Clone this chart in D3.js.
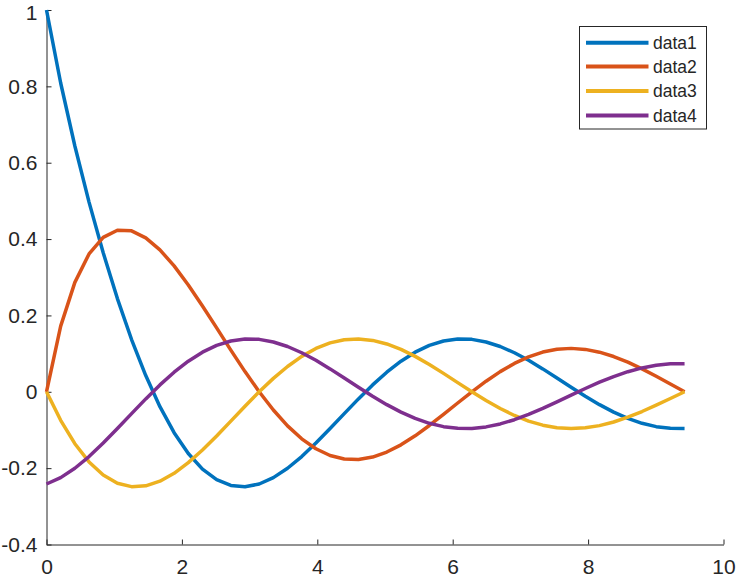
<!DOCTYPE html>
<html>
<head>
<meta charset="utf-8">
<script src="https://cdn.jsdelivr.net/npm/d3@7"></script>
<style>
  html, body { margin: 0; padding: 0; background: #fff; }
  svg { display: block; }
  text { font-family: "Liberation Sans", Arial, sans-serif; fill: #262626; }
</style>
</head>
<body>
<svg id="chart" width="737" height="577"></svg>
<script>
const xValues = [0, 0.2094, 0.4189, 0.6283, 0.8378, 1.0472, 1.2566, 1.4661, 1.6755, 1.8850,
  2.0944, 2.3038, 2.5133, 2.7227, 2.9322, 3.1416, 3.3510, 3.5605, 3.7699, 3.9794,
  4.1888, 4.3982, 4.6077, 4.8171, 5.0265, 5.2360, 5.4454, 5.6549, 5.8643, 6.0737,
  6.2832, 6.4926, 6.7021, 6.9115, 7.1209, 7.3304, 7.5398, 7.7493, 7.9587, 8.1681,
  8.3776, 8.5870, 8.7965, 9.0059, 9.2153, 9.4248];

const data1 = [1.000, 0.8088, 0.6438, 0.4968, 0.3641, 0.2442, 0.1369, 0.0424, -0.0391, -0.1071,
  -0.1616, -0.2025, -0.2303, -0.2454, -0.2487, -0.2415, -0.2248, -0.2003, -0.1696, -0.1344,
  -0.0964, -0.0572, -0.0186, 0.0180, 0.0513, 0.0802, 0.1038, 0.1216, 0.1331, 0.1383,
  0.1373, 0.1305, 0.1186, 0.1023, 0.0824, 0.0600, 0.0362, 0.0119, -0.0117, -0.0337,
  -0.0533, -0.0698, -0.0826, -0.0913, -0.0957, -0.0959];

const data2 = [0, 0.1719, 0.2866, 0.3610, 0.4043, 0.4230, 0.4215, 0.4033, 0.3717, 0.3297,
  0.2799, 0.2249, 0.1673, 0.1092, 0.0529, 0, -0.0478, -0.0892, -0.1232, -0.1492,
  -0.1669, -0.1762, -0.1773, -0.1710, -0.1578, -0.1389, -0.1153, -0.0883, -0.0592, -0.0294,
  0, 0.0277, 0.0528, 0.0743, 0.0915, 0.1040, 0.1114, 0.1137, 0.1110, 0.1037,
  0.0923, 0.0775, 0.0600, 0.0406, 0.0204, 0];

const data3 = [0, -0.0748, -0.1360, -0.1837, -0.2180, -0.2394, -0.2485, -0.2464, -0.2342, -0.2135,
  -0.1856, -0.1524, -0.1156, -0.0768, -0.0378, 0, 0.0351, 0.0663, 0.0927, 0.1134,
  0.1281, 0.1365, 0.1385, 0.1346, 0.1252, 0.1109, 0.0927, 0.0715, 0.0482, 0.0240,
  0, -0.0229, -0.0439, -0.0620, -0.0767, -0.0875, -0.0941, -0.0964, -0.0944, -0.0886,
  -0.0791, -0.0666, -0.0517, -0.0351, -0.0176, 0];

const data4 = [-0.2415, -0.2248, -0.2003, -0.1696, -0.1344, -0.0964, -0.0572, -0.0186, 0.0180, 0.0513,
  0.0802, 0.1038, 0.1216, 0.1331, 0.1383, 0.1373, 0.1305, 0.1186, 0.1023, 0.0824,
  0.0600, 0.0362, 0.0119, -0.0117, -0.0337, -0.0533, -0.0698, -0.0826, -0.0913, -0.0957,
  -0.0959, -0.0920, -0.0842, -0.0732, -0.0594, -0.0436, -0.0265, -0.0088, 0.0086, 0.0251,
  0.0399, 0.0526, 0.0625, 0.0695, 0.0732, 0.0737];

const seriesNames = ["data1", "data2", "data3", "data4"];
const seriesColors = ["#0072BD", "#D95319", "#EDB120", "#7E2F8E"];
const xTicks = [0, 2, 4, 6, 8, 10];
const yTicks = [-0.4, -0.2, 0, 0.2, 0.4, 0.6, 0.8, 1];

const seriesList = [data1, data2, data3, data4];

(function () {
  const svg = d3.select("#chart");
  const mLeft = 46.5, mRight = 723.5, mTop = 10, mBottom = 544.5;

  const x = d3.scaleLinear().domain([0, 10]).range([mLeft, mRight]);
  const y = d3.scaleLinear().domain([-0.4, 1]).range([mBottom, mTop]);

  const xAxis = d3.axisBottom(x).tickValues(xTicks).tickSizeInner(-5).tickSizeOuter(0)
    .tickFormat(d3.format("d"));
  const yAxis = d3.axisLeft(y).tickValues(yTicks).tickSizeInner(-5).tickSizeOuter(0)
    .tickPadding(9).tickFormat(d => d === 0 ? "0" : String(+d.toFixed(1)));

  const gx = svg.append("g").attr("transform", `translate(0,${mBottom})`).call(xAxis);
  const gy = svg.append("g").attr("transform", `translate(${mLeft},0)`).call(yAxis);

  [gx, gy].forEach(g => {
    g.select(".domain").attr("stroke", "#262626").attr("stroke-width", 1);
    g.selectAll(".tick line").attr("stroke", "#262626").attr("stroke-width", 1);
    g.selectAll(".tick text").attr("fill", "#262626")
      .style("font-family", '"Liberation Sans", Arial, sans-serif').style("font-size", "21px");
  });
  gx.selectAll(".tick text").attr("y", 29.5).attr("dy", 0);
  gy.selectAll(".tick text").filter(d => d === 1).attr("dy", "0.43em");

  const line = d3.line().x((d, i) => x(xValues[i])).y(d => y(d));
  seriesList.forEach((s, i) => {
    svg.append("path").datum(s)
      .attr("d", line)
      .attr("fill", "none")
      .attr("stroke", seriesColors[i])
      .attr("stroke-width", 3.5)
      .attr("stroke-linejoin", "round");
  });

  const lg = svg.append("g");
  lg.append("rect").attr("x", 579.5).attr("y", 26.5).attr("width", 127).attr("height", 102.5)
    .attr("fill", "#fff").attr("stroke", "#262626").attr("stroke-width", 1);
  const rowY = [42.7, 66.5, 91, 115.5];
  seriesNames.forEach((n, i) => {
    lg.append("line").attr("x1", 586).attr("x2", 648.5).attr("y1", rowY[i]).attr("y2", rowY[i])
      .attr("stroke", seriesColors[i]).attr("stroke-width", 4);
    lg.append("text").attr("x", 653).attr("y", rowY[i]).attr("dy", "0.35em")
      .style("font-size", "17.5px").text(n);
  });
})();
</script>
</body>
</html>
